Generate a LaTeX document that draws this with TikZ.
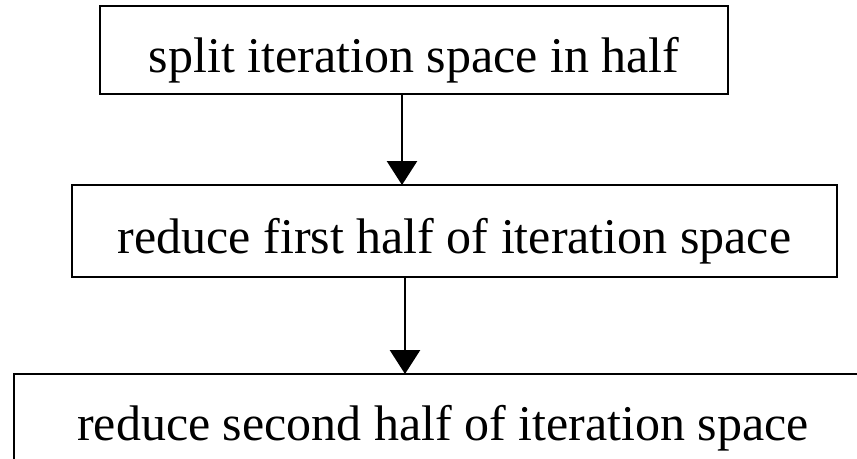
\documentclass[tikz,border=0pt]{standalone}
\usepackage{fontspec}
\setmainfont{Liberation Serif}
\usetikzlibrary{arrows.meta}
\begin{document}
\begin{tikzpicture}[x=1pt,y=-1pt,
  flowbox/.style={draw=black, line width=2.6pt, fill=white, inner sep=0pt, outer sep=0pt,
    font=\fontsize{50}{60}\selectfont, text height=55pt, text depth=11pt, align=center},
  flowarrow/.style={line width=2.8pt, -{Triangle[width=30pt,length=24pt]}}]
\useasboundingbox (0,0) rectangle (857,458);
\clip (0,0) rectangle (857,458);
\node[flowbox, minimum width=628pt, minimum height=88pt] (b1) at (414,50) {split iteration space in half};
\node[flowbox, minimum width=765pt, minimum height=92pt] (b2) at (454.5,231) {reduce first half of iteration space};
\node[flowbox, minimum width=858pt, minimum height=88pt] (b3) at (443,418) {reduce second half of iteration space};
\coordinate (c1) at (402,0);
\coordinate (c2) at (405,0);
\draw[flowarrow] (c1 |- b1.south) -- (c1 |- b2.north);
\draw[flowarrow] (c2 |- b2.south) -- (c2 |- b3.north);
\end{tikzpicture}
\end{document}
